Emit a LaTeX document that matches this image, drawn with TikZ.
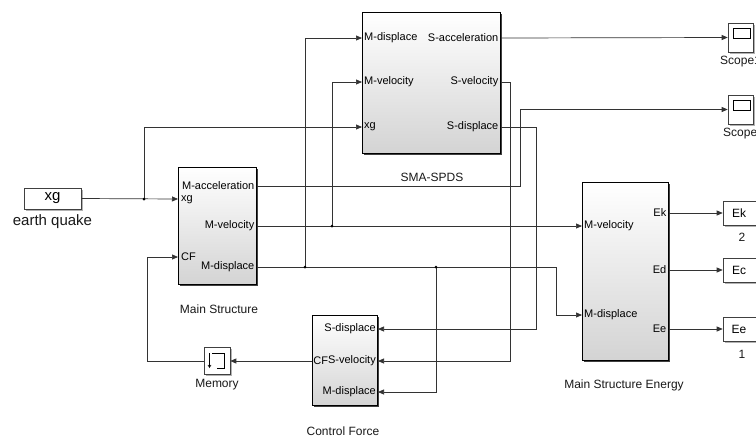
\documentclass[tikz,border=0pt]{standalone}
\usepackage{fontspec}
\setmainfont{Liberation Sans}
\usetikzlibrary{arrows.meta,shadows}
\begin{document}
\begin{tikzpicture}[x=1pt,y=-1pt,
  wire/.style={draw=black!80, line width=0.7pt},
  arr/.style={wire,-{Triangle[length=6pt,width=5pt]}},
  bigblock/.style={draw=black, line width=0.8pt, top color=white, bottom color=black!17, inner sep=0pt,
    drop shadow={shadow xshift=2pt,shadow yshift=-2pt,fill=black!75,opacity=1}},
  smallblock/.style={draw=black!75, line width=0.6pt, fill=white, inner sep=0pt,
    drop shadow={shadow xshift=1.5pt,shadow yshift=-1.5pt,fill=black!30,opacity=1}},
  port/.style={inner sep=0pt, font=\fontsize{11}{13}\selectfont},
  caption/.style={inner sep=0pt, font=\fontsize{12}{14}\selectfont, text=black!90},
  jdot/.style={circle, fill=black, inner sep=0pt, minimum size=3pt},
]
\useasboundingbox (0,0) rectangle (756,440);
\clip (0,0) rectangle (756,440);
\fill[white] (0,0) rectangle (756,440);

% ---------- blocks ----------
\node[smallblock, minimum width=57pt, minimum height=21pt, font=\fontsize{15}{17}\selectfont] (xg) at (52.5,198.5) {xg};
\node[caption, font=\fontsize{15}{17}\selectfont] (eqlab) at (52.5,222) {earth quake};

\node[bigblock, minimum width=78pt, minimum height=117pt] (ms) at (217,225.5) {};
\node[caption] (mslab) at (219,309) {Main Structure};

\node[bigblock, minimum width=138pt, minimum height=141pt] (sma) at (431,82.5) {};
\node[caption] (smalab) at (432,177) {SMA-SPDS};

\node[bigblock, minimum width=86pt, minimum height=178pt] (mse) at (625,271) {};
\node[caption] (mselab) at (624,385) {Main Structure Energy};

\node[bigblock, minimum width=65pt, minimum height=90pt] (cf) at (344.5,360) {};
\node[caption] (cflab) at (343,431) {Control Force};

\node[smallblock, minimum width=26pt, minimum height=27pt] (mem) at (217,361) {};
\node[caption] (memlab) at (217,385) {Memory};
\draw[line width=0.6pt, -{Straight Barb[length=2.5pt,width=3pt]}] (209.5,353) -- (209.5,368);
\draw[line width=0.6pt] (212,353) -- (224,353) -- (224,368) -- (217,368);

\node[smallblock, minimum width=25pt, minimum height=29pt] (sc1) at (740.5,37.5) {};
\draw[line width=0.6pt] (733,28) rectangle (750,38);
\node[caption] (sc1lab) at (740.5,62) {Scope1};
\node[smallblock, minimum width=25pt, minimum height=29pt] (sc2) at (740.5,109.5) {};
\draw[line width=0.6pt] (733,100) rectangle (750,110);
\node[caption] (sc2lab) at (743.5,134) {Scope2};

\node[smallblock, minimum width=36pt, minimum height=24pt, font=\fontsize{12}{14}\selectfont] (ek) at (741,213) {\hspace*{-4pt}Ek};
\node[caption] (eknum) at (742,237) {2};
\node[smallblock, minimum width=36pt, minimum height=24pt, font=\fontsize{12}{14}\selectfont] (ec) at (741,270) {\hspace*{-4pt}Ec};
\node[smallblock, minimum width=36pt, minimum height=24pt, font=\fontsize{12}{14}\selectfont] (ee) at (741,329) {\hspace*{-4pt}Ee};
\node[caption] (eenum) at (742,354) {1};

% ---------- port labels ----------
\node[port, anchor=east] (p1) at (254.5,186) {M-acceleration};
\node[port, anchor=west] (p2) at (181,200) {xg};
\node[port, anchor=east] (p3) at (254.5,226) {M-velocity};
\node[port, anchor=west] (p4) at (181,257) {CF};
\node[port, anchor=east] (p5) at (254.5,267) {M-displace};

\node[port, anchor=west] (p6) at (364,38) {M-displace};
\node[port, anchor=west] (p7) at (364,82) {M-velocity};
\node[port, anchor=west] (p8) at (364,127) {xg};
\node[port, anchor=east] (p9) at (498.5,38) {S-acceleration};
\node[port, anchor=east] (p10) at (498.5,82) {S-velocity};
\node[port, anchor=east] (p11) at (498.5,127) {S-displace};

\node[port, anchor=west] (p12) at (584,226) {M-velocity};
\node[port, anchor=west] (p13) at (584,315) {M-displace};
\node[port, anchor=east] (p14) at (666.5,213) {Ek};
\node[port, anchor=east] (p15) at (666.5,270) {Ed};
\node[port, anchor=east] (p16) at (666.5,329) {Ee};

\node[port, anchor=east] (p17) at (376,329) {S-displace};
\node[port, anchor=east] (p18) at (376,361) {S-velocity};
\node[port, anchor=east] (p19) at (376,392) {M-displace};
\node[port, anchor=west] (p20) at (313.2,361) {CF};

% ---------- port coordinates ----------
\coordinate (ms-xg) at (178,199);
\coordinate (ms-cf) at (178,257);
\coordinate (ms-acc) at (257,186);
\coordinate (ms-vel) at (257,226);
\coordinate (ms-dis) at (257,267);
\coordinate (sma-md) at (362,38);
\coordinate (sma-mv) at (362,82);
\coordinate (sma-xg) at (362,127);
\coordinate (sma-sa) at (501,38);
\coordinate (sma-sv) at (501,82);
\coordinate (sma-sd) at (501,127);
\coordinate (mse-mv) at (582,226);
\coordinate (mse-md) at (582,315);
\coordinate (mse-ek) at (669,213);
\coordinate (mse-ed) at (669,270);
\coordinate (mse-ee) at (669,329);
\coordinate (cf-sd) at (378,329);
\coordinate (cf-sv) at (378,361);
\coordinate (cf-md) at (378,392);
\coordinate (cf-out) at (312,361);
\coordinate (j1) at (144,199);
\coordinate (j2) at (332,226);
\coordinate (j3) at (305,267);
\coordinate (j4) at (436,267);

% ---------- connectors ----------
\draw[arr] (xg.east) -- (ms-xg);
\draw[arr] (j1) |- (sma-xg);
\draw[arr] (ms-acc) -- (520,186) |- (sc2.west);
\draw[arr] (ms-vel) -- (mse-mv);
\draw[arr] (j2) |- (sma-mv);
\draw[arr] (ms-dis) -- (556,267) |- (mse-md);
\draw[arr] (j3) |- (sma-md);
\draw[arr] (j4) |- (cf-md);
\draw[arr] (sma-sa) -- (sc1.west);
\draw[arr] (sma-sv) -- (510,82) |- (cf-sv);
\draw[arr] (sma-sd) -- (536,127) |- (cf-sd);
\draw[arr] (cf-out) -- (mem.east);
\draw[arr] (mem.west) -- (147,361) |- (ms-cf);
\draw[arr] (mse-ek) -- (ek.west);
\draw[arr] (mse-ed) -- (ec.west);
\draw[arr] (mse-ee) -- (ee.west);

\node[jdot] (d1) at (j1) {};
\node[jdot] (d2) at (j2) {};
\node[jdot] (d3) at (j3) {};
\node[jdot] (d4) at (j4) {};
\end{tikzpicture}
\end{document}
